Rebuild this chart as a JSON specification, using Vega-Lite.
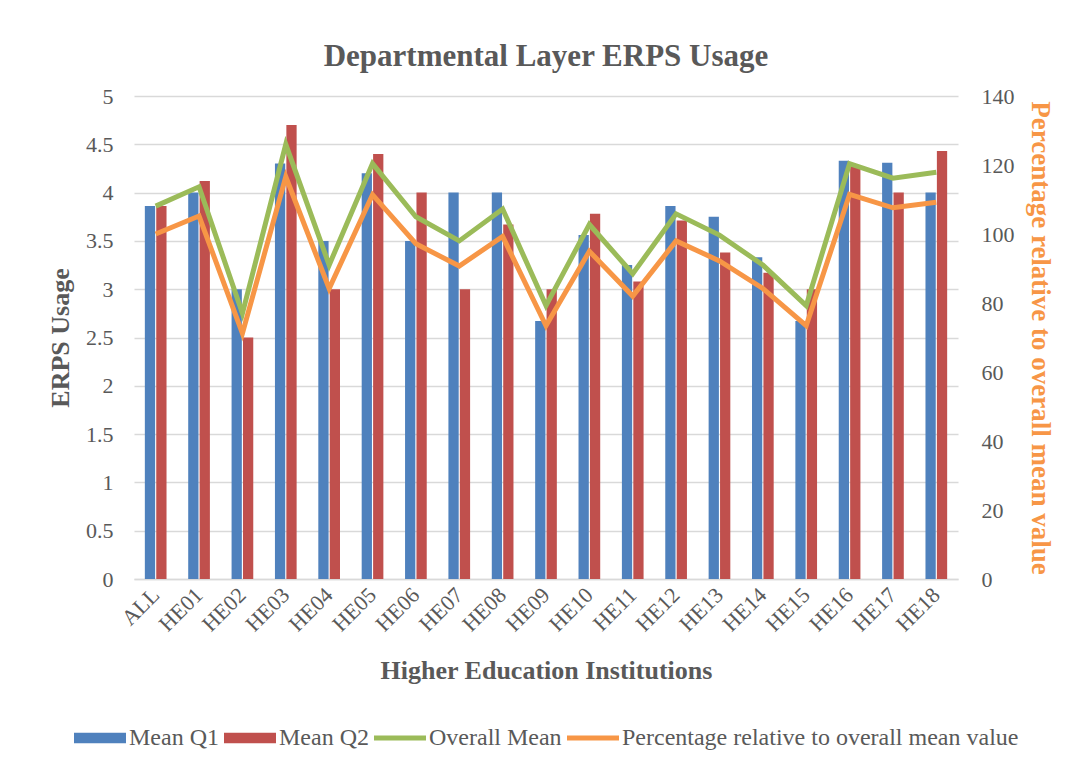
{
  "$schema": "https://vega.github.io/schema/vega-lite/v6.json",
  "autosize": "none",
  "width": 824,
  "height": 483,
  "padding": {"left": 134, "top": 96, "right": 124, "bottom": 191},
  "background": "white",
  "config": {
    "view": {"stroke": null},
    "font": "Liberation Serif",
    "axis": {"labelFont": "Liberation Serif", "titleFont": "Liberation Serif", "labelColor": "#595959", "titleColor": "#595959", "labelFontSize": 22, "titleFontSize": 26, "titleFontWeight": "bold"},
    "legend": {"labelFont": "Liberation Serif", "labelFontSize": 24, "labelColor": "#595959", "labelLimit": 600}
  },
  "title": {"text": "Departmental Layer ERPS Usage", "font": "Liberation Serif", "fontSize": 31, "fontWeight": "bold", "color": "#595959", "offset": 12, "anchor": "middle"},
  "datasets": {
    "bars": [
      {"inst": "ALL", "series": "Mean Q1", "value": 3.86}, {"inst": "ALL", "series": "Mean Q2", "value": 3.86},
      {"inst": "HE01", "series": "Mean Q1", "value": 4.0}, {"inst": "HE01", "series": "Mean Q2", "value": 4.12},
      {"inst": "HE02", "series": "Mean Q1", "value": 3.0}, {"inst": "HE02", "series": "Mean Q2", "value": 2.5},
      {"inst": "HE03", "series": "Mean Q1", "value": 4.3}, {"inst": "HE03", "series": "Mean Q2", "value": 4.7},
      {"inst": "HE04", "series": "Mean Q1", "value": 3.5}, {"inst": "HE04", "series": "Mean Q2", "value": 3.0},
      {"inst": "HE05", "series": "Mean Q1", "value": 4.2}, {"inst": "HE05", "series": "Mean Q2", "value": 4.4},
      {"inst": "HE06", "series": "Mean Q1", "value": 3.5}, {"inst": "HE06", "series": "Mean Q2", "value": 4.0},
      {"inst": "HE07", "series": "Mean Q1", "value": 4.0}, {"inst": "HE07", "series": "Mean Q2", "value": 3.0},
      {"inst": "HE08", "series": "Mean Q1", "value": 4.0}, {"inst": "HE08", "series": "Mean Q2", "value": 3.67},
      {"inst": "HE09", "series": "Mean Q1", "value": 2.67}, {"inst": "HE09", "series": "Mean Q2", "value": 3.0},
      {"inst": "HE10", "series": "Mean Q1", "value": 3.56}, {"inst": "HE10", "series": "Mean Q2", "value": 3.78},
      {"inst": "HE11", "series": "Mean Q1", "value": 3.25}, {"inst": "HE11", "series": "Mean Q2", "value": 3.08},
      {"inst": "HE12", "series": "Mean Q1", "value": 3.86}, {"inst": "HE12", "series": "Mean Q2", "value": 3.71},
      {"inst": "HE13", "series": "Mean Q1", "value": 3.75}, {"inst": "HE13", "series": "Mean Q2", "value": 3.38},
      {"inst": "HE14", "series": "Mean Q1", "value": 3.33}, {"inst": "HE14", "series": "Mean Q2", "value": 3.17},
      {"inst": "HE15", "series": "Mean Q1", "value": 2.67}, {"inst": "HE15", "series": "Mean Q2", "value": 3.0},
      {"inst": "HE16", "series": "Mean Q1", "value": 4.33}, {"inst": "HE16", "series": "Mean Q2", "value": 4.27},
      {"inst": "HE17", "series": "Mean Q1", "value": 4.31}, {"inst": "HE17", "series": "Mean Q2", "value": 4.0},
      {"inst": "HE18", "series": "Mean Q1", "value": 4.0}, {"inst": "HE18", "series": "Mean Q2", "value": 4.43}
    ],
    "lines": [
      {"inst": "ALL", "overall": 3.86, "pct": 100.0},
      {"inst": "HE01", "overall": 4.06, "pct": 105.2},
      {"inst": "HE02", "overall": 2.75, "pct": 71.2},
      {"inst": "HE03", "overall": 4.5, "pct": 116.6},
      {"inst": "HE04", "overall": 3.25, "pct": 84.2},
      {"inst": "HE05", "overall": 4.3, "pct": 111.4},
      {"inst": "HE06", "overall": 3.75, "pct": 97.2},
      {"inst": "HE07", "overall": 3.5, "pct": 90.7},
      {"inst": "HE08", "overall": 3.83, "pct": 99.3},
      {"inst": "HE09", "overall": 2.83, "pct": 73.4},
      {"inst": "HE10", "overall": 3.67, "pct": 95.0},
      {"inst": "HE11", "overall": 3.16, "pct": 82.0},
      {"inst": "HE12", "overall": 3.78, "pct": 98.0},
      {"inst": "HE13", "overall": 3.56, "pct": 92.2},
      {"inst": "HE14", "overall": 3.25, "pct": 84.2},
      {"inst": "HE15", "overall": 2.83, "pct": 73.4},
      {"inst": "HE16", "overall": 4.3, "pct": 111.5},
      {"inst": "HE17", "overall": 4.15, "pct": 107.6},
      {"inst": "HE18", "overall": 4.21, "pct": 109.2}
    ]
  },
  "layer": [
    {
      "layer": [
        {
          "data": {"name": "bars"},
          "mark": {"type": "bar"},
          "encoding": {
            "x": {"field": "inst", "type": "nominal", "scale": {"paddingInner": 0.5, "paddingOuter": 0.25},
              "axis": {"title": "Higher Education Institutions", "labelAngle": -45, "labelAlign": "right", "labelBaseline": "middle", "labelPadding": 12, "ticks": false, "domainColor": "#d9d9d9", "domainWidth": 1.5, "titlePadding": 22}},
            "xOffset": {"field": "series", "type": "nominal", "scale": {"paddingInner": 0.1}},
            "y": {"field": "value", "type": "quantitative", "scale": {"domain": [0, 5]},
              "axis": {"title": "ERPS Usage", "orient": "left", "values": [0, 0.5, 1, 1.5, 2, 2.5, 3, 3.5, 4, 4.5, 5], "format": "", "labelExpr": "datum.value == 0 ? '0' : datum.label", "domain": false, "ticks": false, "labelPadding": 21, "titlePadding": 12, "gridColor": "#d9d9d9", "gridWidth": 1.5}},
            "color": {"field": "series", "type": "nominal",
              "scale": {"domain": ["Mean Q1", "Mean Q2", "Overall Mean", "Percentage relative to overall mean value"], "range": ["#4F81BD", "#C0504D", "#9BBB59", "#F79646"]},
              "legend": {"title": null, "orient": "none", "legendX": -60, "legendY": 616, "direction": "horizontal", "symbolSize": 2704, "labelOffset": 3, "columnPadding": 5, "labelFont": "Liberation Serif", "labelFontSize": 24, "labelLimit": 600, "labelColor": "#595959",
                "encode": {"symbols": {"update": {
                  "shape": {"signal": "indexof(['Mean Q1','Mean Q2'], datum.value) >= 0 ? 'M-1,-0.2H1V0.2H-1Z' : 'M-1,-0.1H1V0.1H-1Z'"},
                  "fill": {"scale": "color", "field": "value"},
                  "strokeWidth": {"value": 0}}}}}}
          }
        },
        {
          "data": {"name": "lines"},
          "mark": {"type": "line", "strokeWidth": 5},
          "encoding": {
            "x": {"field": "inst", "type": "nominal"},
            "y": {"field": "overall", "type": "quantitative"},
            "color": {"datum": "Overall Mean"}
          }
        }
      ]
    },
    {
      "data": {"name": "lines"},
      "mark": {"type": "line", "strokeWidth": 5},
      "encoding": {
        "x": {"field": "inst", "type": "nominal"},
        "y": {"field": "pct", "type": "quantitative", "scale": {"domain": [0, 140]},
          "axis": {"title": "Percentage relative to overall mean value", "orient": "right", "titleColor": "#F79646", "titleFontSize": 27, "values": [0, 20, 40, 60, 80, 100, 120, 140], "grid": false, "domain": false, "ticks": false, "labelPadding": 23, "titlePadding": 11}},
        "color": {"datum": "Percentage relative to overall mean value"}
      }
    }
  ],
  "resolve": {"scale": {"y": "independent"}}
}
